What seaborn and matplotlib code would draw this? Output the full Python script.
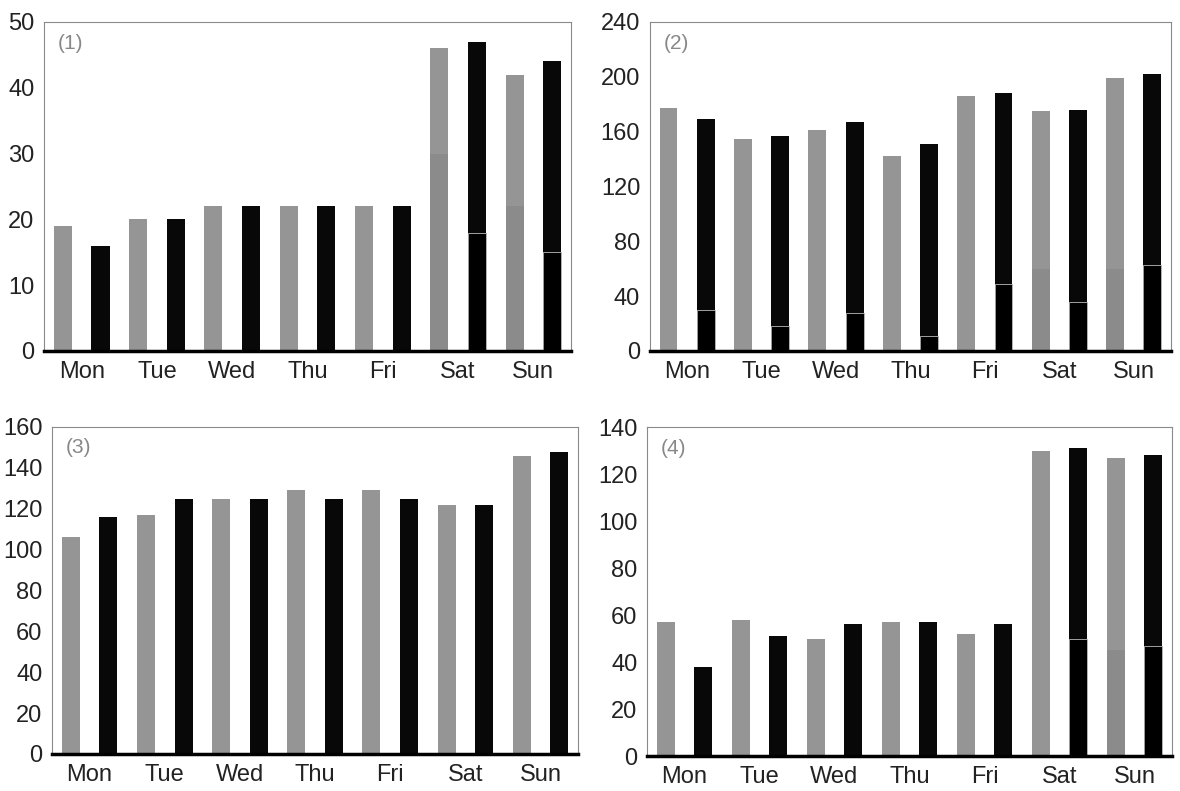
import pandas as pd
import seaborn as sns
import matplotlib.pyplot as plt

days = ['Mon', 'Tue', 'Wed', 'Thu', 'Fri', 'Sat', 'Sun']

# panel (1)
p1_gray = [19, 20, 22, 22, 22, 46, 42]
p1_black = [16, 20, 22, 22, 22, 47, 44]
p1_gray_low = [0, 0, 0, 0, 0, 30, 22]
p1_black_low = [0, 0, 0, 0, 0, 18, 15]
p1_ticks = [0, 10, 20, 30, 40, 50]

# panel (2)
p2_gray = [177, 155, 161, 142, 186, 175, 199]
p2_black = [169, 157, 167, 151, 188, 176, 202]
p2_gray_low = [0, 0, 0, 0, 0, 60, 60]
p2_black_low = [30, 18, 28, 11, 49, 36, 63]
p2_ticks = [0, 40, 80, 120, 160, 200, 240]

# panel (3)
p3_gray = [106, 117, 125, 129, 129, 122, 146]
p3_black = [116, 125, 125, 125, 125, 122, 148]
p3_gray_low = [0, 0, 0, 0, 0, 0, 0]
p3_black_low = [0, 0, 0, 0, 0, 0, 0]
p3_ticks = [0, 20, 40, 60, 80, 100, 120, 140, 160]

# panel (4)
p4_gray = [57, 58, 50, 57, 52, 130, 127]
p4_black = [38, 51, 56, 57, 56, 131, 128]
p4_gray_low = [0, 0, 0, 0, 0, 0, 45]
p4_black_low = [0, 0, 0, 0, 0, 50, 47]
p4_ticks = [0, 20, 40, 60, 80, 100, 120, 140]

panels = [
    ('(1)', p1_gray, p1_black, p1_gray_low, p1_black_low, p1_ticks, [0.0373, 0.5563, 0.4466, 0.4159]),
    ('(2)', p2_gray, p2_black, p2_gray_low, p2_black_low, p2_ticks, [0.5508, 0.5563, 0.4415, 0.4159]),
    ('(3)', p3_gray, p3_black, p3_gray_low, p3_black_low, p3_ticks, [0.0441, 0.0468, 0.4458, 0.4134]),
    ('(4)', p4_gray, p4_black, p4_gray_low, p4_black_low, p4_ticks, [0.5483, 0.0442, 0.4449, 0.4159]),
]

sns.set_style('white')
plt.rcParams['font.family'] = ['Liberation Sans', 'DejaVu Sans']

fig = plt.figure(figsize=(11.8, 7.91), dpi=100)


def long_df(gray, black):
    return pd.DataFrame({
        'day': days * 2,
        'series': ['gray'] * len(days) + ['black'] * len(days),
        'value': list(gray) + list(black),
    })


def bars(ax, gray, black, colors, **kw):
    sns.barplot(data=long_df(gray, black), x='day', y='value', hue='series',
                hue_order=['gray', 'black'], order=days,
                palette={'gray': colors[0], 'black': colors[1]},
                width=1.0, gap=0.52, legend=False, ax=ax, **kw)


zeros = [0] * len(days)

for label, gray, black, gray_low, black_low, ticks, rect in panels:
    ax = fig.add_axes(rect)
    # full bar heights
    bars(ax, gray, black, ('#959595', '#080808'), linewidth=0)
    # lower segments of the stacked bars
    bars(ax, gray_low, zeros, ('#8b8b8b', '#000000'), linewidth=0)
    bars(ax, zeros, black_low, ('#8b8b8b', '#000000'), linewidth=0.6, edgecolor='#bbbbbb')

    ax.set_xlim(-0.5, 6.5)
    ax.set_ylim(0, ticks[-1])
    ax.set_yticks(ticks)
    ax.set_xlabel('')
    ax.set_ylabel('')
    ax.tick_params(axis='both', length=0, labelsize=17, colors='#222222')
    ax.tick_params(axis='y', pad=7)
    ax.tick_params(axis='x', pad=7)
    for side in ['top', 'left', 'right']:
        ax.spines[side].set_color('#8a8a8a')
        ax.spines[side].set_linewidth(0.8)
    ax.spines['bottom'].set_color('#000000')
    ax.spines['bottom'].set_linewidth(2.5)
    ax.spines['bottom'].set_zorder(5)
    ax.text(0.027, 0.965, label, transform=ax.transAxes, ha='left', va='top',
            fontsize=15, color='#888888')

plt.savefig('out.png', dpi=100)
